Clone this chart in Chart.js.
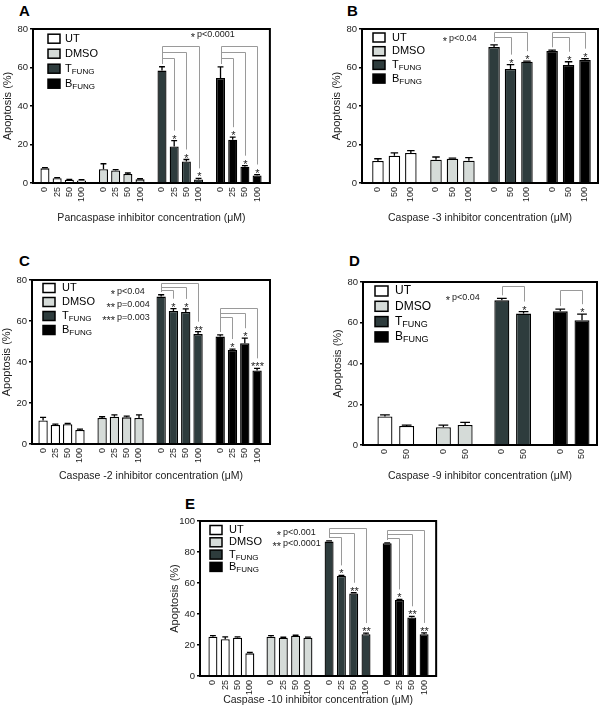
<!DOCTYPE html>
<html>
<head>
<meta charset="utf-8">
<script src="https://cdn.jsdelivr.net/npm/chart.js@4"></script>
<style>
  body { margin: 0; background: #fff; width: 600px; height: 715px; position: relative; overflow: hidden;
         font-family: "Liberation Sans", Arial, sans-serif; }
  canvas { position: absolute; }
  .tag { position: absolute; font-weight: bold; font-size: 15px; line-height: 15px; color: #000; }
</style>
</head>
<body>
<div class="tag" style="left:19px;top:3px">A</div>
<div class="tag" style="left:347px;top:3px">B</div>
<div class="tag" style="left:19px;top:253px">C</div>
<div class="tag" style="left:349px;top:253px">D</div>
<div class="tag" style="left:185px;top:496px">E</div>
<canvas id="chartA"></canvas>
<canvas id="chartB"></canvas>
<canvas id="chartC"></canvas>
<canvas id="chartD"></canvas>
<canvas id="chartE"></canvas>
<script>
const seriesNames = ["UT", "DMSO", "T", "B"];
const seriesSubs = ["", "", "FUNG", "FUNG"];
const seriesColors = ["#ffffff", "#d5dbd8", "#2e3c3d", "#000000"];

// A - pancaspase inhibitor
const dosesA = ["0", "25", "50", "100"];
const utA = [7.6, 2.5, 1.7, 1.3];
const dmsoA = [7.2, 6.5, 4.7, 1.9];
const tfungA = [58.4, 19, 11.2, 1.8];
const bfungA = [54.5, 22.5, 8.5, 3.9];
const utErrA = [0.4, 0.3, 0.2, 0.4];
const dmsoErrA = [2.8, 0.5, 0.5, 0.3];
const tfungErrA = [2, 3, 1, 0.6];
const bfungErrA = [5.8, 1.3, 0.5, 0.5];
// [group, dose index, mark, bracket level]
const sigA = [[2, 1, "*", 65], [2, 2, "*", 68], [2, 3, "*", 71], [3, 1, "*", 65], [3, 2, "*", 68], [3, 3, "*", 71]];
const notesA = [["*", "p<0.0001"]];

// B - caspase-3 inhibitor
const dosesB = ["0", "50", "100"];
const utB = [11.4, 14.2, 15.6];
const dmsoB = [12.1, 12.6, 11.6];
const tfungB = [70.6, 59.2, 63];
const bfungB = [68.6, 61.3, 63.9];
const utErrB = [1.2, 1.4, 1.2];
const dmsoErrB = [1.4, 0.3, 1.6];
const tfungErrB = [1.2, 2.3, 0.3];
const bfungErrB = [0.4, 1.7, 0.7];
const sigB = [[2, 1, "*", 75.8], [2, 2, "*", 78.5], [3, 1, "*", 75.8], [3, 2, "*", 78.5]];
const notesB = [["*", "p<0.04"]];

// C - caspase-2 inhibitor
const dosesC = ["0", "25", "50", "100"];
const utC = [11.5, 9.3, 9.6, 6.8];
const dmsoC = [12.7, 13.3, 13, 12.7];
const tfungC = [71.9, 64.9, 64.4, 53.6];
const bfungC = [52.4, 45.9, 49.2, 35.9];
const utErrC = [1.5, 0.4, 0.4, 0.5];
const dmsoErrC = [0.6, 0.9, 0.6, 1.5];
const tfungErrC = [0.9, 1.1, 1.5, 1.2];
const bfungErrC = [0.8, 0.4, 2.4, 1];
const sigC = [[2, 1, "*", 75.2], [2, 2, "*", 76.8], [2, 3, "**", 78.4], [3, 1, "*", 61.8], [3, 2, "*", 63.8], [3, 3, "***", 66.2]];
const notesC = [["*", "p<0.04"], ["**", "p=0.004"], ["***", "p=0.003"]];

// D - caspase-9 inhibitor
const dosesD = ["0", "50"];
const utD = [14, 9.3];
const dmsoD = [8.7, 9.8];
const tfungD = [71, 64.5];
const bfungD = [65.6, 61.2];
const utErrD = [0.8, 0.5];
const dmsoErrD = [1.1, 1.3];
const tfungErrD = [1, 1];
const bfungErrD = [1.1, 3];
const sigD = [[2, 1, "*", 77.9], [3, 1, "*", 76.3]];
const notesD = [["*", "p<0.04"]];

// E - caspase-10 inhibitor
const dosesE = ["0", "25", "50", "100"];
const utE = [25.4, 23.7, 24.7, 14.6];
const dmsoE = [25.4, 24.7, 26, 24.7];
const tfungE = [86.7, 64.5, 53.3, 26.9];
const bfungE = [85.6, 49, 37.8, 26.9];
const utErrE = [0.6, 1.6, 0.5, 0.6];
const dmsoErrE = [0.7, 0.3, 0.3, 0.4];
const tfungErrE = [0.5, 0.4, 0.4, 0.8];
const bfungErrE = [0.3, 0.4, 0.7, 0.9];
const sigE = [[2, 1, "*", 90], [2, 2, "**", 92.5], [2, 3, "**", 95.3], [3, 1, "*", 89], [3, 2, "**", 91.6], [3, 3, "**", 94.2]];
const notesE = [["*", "p<0.001"], ["**", "p<0.0001"]];

const FONT = "'Liberation Sans', Arial, sans-serif";
Chart.defaults.font.family = FONT;
Chart.defaults.color = "#222";

const extrasPlugin = {
  id: "extras",
  afterDatasetsDraw(chart, args, o) {
    const { ctx, chartArea: a, scales: { y } } = chart;
    ctx.save();

    // error bars (upper only)
    chart.data.datasets.forEach((ds, g) => {
      const els = chart.getDatasetMeta(g).data;
      ds.data.forEach((p, i) => {
        const el = els[i];
        const yTop = y.getPixelForValue(p.y + ds.errors[i]);
        const cap = el.width * 0.65;
        ctx.strokeStyle = "#000";
        ctx.lineWidth = 1.3;
        ctx.beginPath();
        ctx.moveTo(el.x, el.y);
        ctx.lineTo(el.x, yTop);
        ctx.moveTo(el.x - cap / 2, yTop);
        ctx.lineTo(el.x + cap / 2, yTop);
        ctx.stroke();
      });
    });

    // significance brackets
    o.sig.forEach(([g, t, mark, level]) => {
      const ds = chart.data.datasets[g];
      const els = chart.getDatasetMeta(g).data;
      const xc = Math.round(els[0].x) + 0.5;
      const xt = Math.round(els[t].x) + 0.5;
      const yc = y.getPixelForValue(ds.data[0].y + ds.errors[0]) - 3;
      const yl = Math.round(y.getPixelForValue(level)) + 0.5;
      const yt = y.getPixelForValue(ds.data[t].y + ds.errors[t]);
      ctx.strokeStyle = "#9a9a9a";
      ctx.lineWidth = 1;
      ctx.beginPath();
      ctx.moveTo(xc, yc);
      ctx.lineTo(xc, yl);
      ctx.lineTo(xt, yl);
      ctx.lineTo(xt, yt - 10);
      ctx.stroke();
      ctx.fillStyle = "#222";
      ctx.font = "11px " + FONT;
      ctx.textAlign = "center";
      ctx.textBaseline = "alphabetic";
      ctx.fillText(mark, xt, yt + 2);
    });

    // p-value notes
    o.notes.forEach(([stars, text], i) => {
      const ny = a.top + o.note.y + i * o.note.step;
      const nx = a.left + o.note.x;
      ctx.fillStyle = "#222";
      ctx.font = "11px " + FONT;
      ctx.textAlign = "right";
      ctx.textBaseline = "alphabetic";
      ctx.fillText(stars, nx - 2, ny + 6);
      ctx.font = "9px " + FONT;
      ctx.textAlign = "left";
      ctx.textBaseline = "middle";
      ctx.fillText(text, nx, ny);
    });

    // frame
    ctx.strokeStyle = "#000";
    ctx.lineWidth = 2;
    ctx.strokeRect(a.left, a.top, a.right - a.left, a.bottom - a.top);

    // legend
    const L = o.legend;
    seriesNames.forEach((name, i) => {
      const cy = a.top + L.y + i * L.step;
      const bx = a.left + L.x;
      ctx.fillStyle = seriesColors[i];
      ctx.fillRect(bx, cy - L.h / 2, L.w, L.h);
      ctx.strokeStyle = "#000";
      ctx.lineWidth = 1.5;
      ctx.strokeRect(bx, cy - L.h / 2, L.w, L.h);
      ctx.fillStyle = "#000";
      ctx.textAlign = "left";
      ctx.textBaseline = "middle";
      ctx.font = L.font + "px " + FONT;
      const tx = bx + L.tx;
      ctx.fillText(name, tx, cy);
      if (seriesSubs[i]) {
        const w = ctx.measureText(name).width;
        ctx.font = (L.font - 3) + "px " + FONT;
        ctx.fillText(seriesSubs[i], tx + w, cy + 3);
      }
    });
    ctx.restore();
  },
};

function makePanel(p) {
  const canvas = document.getElementById(p.id);
  const x0 = p.box.left - 33;
  const y0 = p.box.top - 29;
  const w = p.box.right + 2 - x0;
  const h = p.box.titleY + 12 - y0;
  const xHeight = h - 29 - (p.box.bottom - p.box.top);
  canvas.width = w;
  canvas.height = h;
  canvas.style.left = x0 + "px";
  canvas.style.top = y0 + "px";

  const positions = [];
  const labels = [];
  const datasets = p.values.map((vals, g) => {
    const data = vals.map((v, i) => {
      positions.push(g * p.box.stride + i);
      labels.push(p.doses[i]);
      return { x: g * p.box.stride + i, y: v };
    });
    return {
      label: seriesNames[g] + seriesSubs[g],
      data,
      errors: p.errors[g],
      backgroundColor: seriesColors[g],
      borderColor: "#000",
      borderWidth: 1.3,
      grouped: false,
      barPercentage: p.box.bar,
      categoryPercentage: 1,
    };
  });

  new Chart(canvas.getContext("2d"), {
    type: "bar",
    data: { datasets },
    options: {
      responsive: false,
      animation: false,
      layout: { padding: { top: 29, right: 2, left: 0, bottom: 0 } },
      plugins: {
        legend: { display: false },
        tooltip: { enabled: false },
        extras: { sig: p.sig, notes: p.notes, note: p.note, legend: p.legend },
      },
      scales: {
        x: {
          type: "linear",
          offset: false,
          min: p.box.min,
          max: p.box.max,
          afterBuildTicks: (s) => {
            s.ticks = positions.map((v) => ({ value: v }));
          },
          afterFit: (s) => {
            s.height = xHeight;
          },
          ticks: {
            autoSkip: false,
            minRotation: 90,
            maxRotation: 90,
            padding: 4,
            color: "#222",
            font: { size: 9 },
            callback: (v, i) => labels[i],
          },
          grid: { display: false, drawTicks: false },
          border: { display: false },
          title: {
            display: true,
            text: p.xTitle,
            color: "#222",
            font: { size: 10.5 },
            padding: { top: 0, bottom: 6 },
          },
        },
        y: {
          min: 0,
          max: p.yMax,
          afterFit: (s) => {
            s.width = 33;
          },
          ticks: { stepSize: 20, padding: 2, color: "#222", font: { size: 9.5 } },
          grid: { drawOnChartArea: false, drawTicks: true, tickLength: 3, color: "#000", lineWidth: 1.5 },
          border: { display: false },
          title: {
            display: true,
            text: "Apoptosis (%)",
            color: "#222",
            font: { size: 11 },
            padding: { top: 1.4, bottom: 0 },
          },
        },
      },
    },
    plugins: [extrasPlugin],
  });
}

makePanel({
  id: "chartA",
  box: { left: 33, top: 29, right: 270, bottom: 183, titleY: 218, stride: 4.8, min: -0.98, max: 18.45, bar: 0.74 },
  doses: dosesA,
  values: [utA, dmsoA, tfungA, bfungA],
  errors: [utErrA, dmsoErrA, tfungErrA, bfungErrA],
  sig: sigA,
  notes: notesA,
  note: { x: 164, y: 6, step: 12 },
  legend: { x: 15, y: 9.7, step: 15, w: 12, h: 9, tx: 17, font: 11 },
  xTitle: "Pancaspase inhibitor concentration (μM)",
  yMax: 80,
});

makePanel({
  id: "chartB",
  box: { left: 362, top: 29, right: 598, bottom: 183, titleY: 218, stride: 3.53, min: -0.97, max: 13.38, bar: 0.7 },
  doses: dosesB,
  values: [utB, dmsoB, tfungB, bfungB],
  errors: [utErrB, dmsoErrB, tfungErrB, bfungErrB],
  sig: sigB,
  notes: notesB,
  note: { x: 87, y: 10, step: 12 },
  legend: { x: 11, y: 8.5, step: 13.7, w: 12, h: 9, tx: 19, font: 11 },
  xTitle: "Caspase -3 inhibitor concentration (μM)",
  yMax: 80,
});

makePanel({
  id: "chartC",
  box: { left: 32, top: 280, right: 270, bottom: 444, titleY: 476, stride: 4.8, min: -0.9, max: 18.45, bar: 0.76 },
  doses: dosesC,
  values: [utC, dmsoC, tfungC, bfungC],
  errors: [utErrC, dmsoErrC, tfungErrC, bfungErrC],
  sig: sigC,
  notes: notesC,
  note: { x: 85, y: 12, step: 13 },
  legend: { x: 11, y: 8, step: 14, w: 12, h: 9, tx: 19, font: 11 },
  xTitle: "Caspase -2 inhibitor concentration (μM)",
  yMax: 80,
});

makePanel({
  id: "chartD",
  box: { left: 363, top: 282, right: 597, bottom: 445, titleY: 476, stride: 2.69, min: -1.01, max: 9.76, bar: 0.69 },
  doses: dosesD,
  values: [utD, dmsoD, tfungD, bfungD],
  errors: [utErrD, dmsoErrD, tfungErrD, bfungErrD],
  sig: sigD,
  notes: notesD,
  note: { x: 89, y: 16, step: 12 },
  legend: { x: 12, y: 9, step: 15.3, w: 13, h: 10, tx: 20, font: 12 },
  xTitle: "Caspase -9 inhibitor concentration (μM)",
  yMax: 80,
});

makePanel({
  id: "chartE",
  box: { left: 200, top: 521, right: 437, bottom: 676, titleY: 700, stride: 4.72, min: -1.05, max: 18.14, bar: 0.73 },
  doses: dosesE,
  values: [utE, dmsoE, tfungE, bfungE],
  errors: [utErrE, dmsoErrE, tfungErrE, bfungErrE],
  sig: sigE,
  notes: notesE,
  note: { x: 83, y: 11.5, step: 11.5 },
  legend: { x: 10, y: 9, step: 12.3, w: 12, h: 9, tx: 19, font: 11 },
  xTitle: "Caspase -10 inhibitor concentration (μM)",
  yMax: 100,
});
</script>
</body>
</html>
